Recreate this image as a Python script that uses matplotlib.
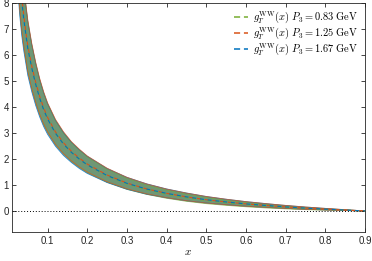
import numpy as np
import matplotlib
matplotlib.use("Agg")
import matplotlib.pyplot as plt
from matplotlib.lines import Line2D

# x grid
x = [0.025, 0.03, 0.035, 0.04, 0.045, 0.05, 0.06, 0.07, 0.08, 0.09, 0.10, 0.12, 0.14,
     0.16, 0.18, 0.20, 0.25, 0.30, 0.35, 0.40, 0.45, 0.50, 0.55, 0.60, 0.65, 0.70,
     0.75, 0.80, 0.85, 0.90]

# central values, P3 = 0.83 / 1.25 / 1.67 GeV
g_083 = [10.2, 9.0, 8.1, 7.4, 6.85, 6.3, 5.53, 4.9, 4.36, 3.92, 3.56, 3.0, 2.59,
         2.26, 2.0, 1.77, 1.35, 1.04, 0.815, 0.645, 0.51, 0.4, 0.315, 0.245, 0.185, 0.135,
         0.092, 0.058, 0.03, 0.0]
g_125 = [10.3, 9.1, 8.2, 7.5, 6.9, 6.35, 5.57, 4.94, 4.4, 3.96, 3.59, 3.03, 2.62,
         2.29, 2.03, 1.80, 1.38, 1.07, 0.845, 0.675, 0.54, 0.43, 0.345, 0.27, 0.21, 0.155,
         0.107, 0.068, 0.033, 0.0]
g_167 = [10.1, 8.95, 8.05, 7.35, 6.8, 6.25, 5.49, 4.86, 4.33, 3.89, 3.53, 2.98, 2.57,
         2.25, 1.99, 1.77, 1.36, 1.06, 0.84, 0.675, 0.54, 0.43, 0.345, 0.27, 0.21, 0.155,
         0.107, 0.068, 0.033, 0.0]

# band half widths
err_083 = [1.5, 1.35, 1.22, 1.1, 1.02, 0.95, 0.83, 0.74, 0.66, 0.6, 0.54, 0.46, 0.4,
           0.36, 0.33, 0.3, 0.25, 0.21, 0.18, 0.16, 0.14, 0.12, 0.1, 0.085, 0.07, 0.055,
           0.042, 0.028, 0.014, 0.0]
err_125 = [1.55, 1.4, 1.27, 1.15, 1.06, 0.99, 0.87, 0.77, 0.69, 0.62, 0.56, 0.48, 0.42,
           0.37, 0.34, 0.31, 0.26, 0.22, 0.19, 0.165, 0.145, 0.125, 0.105, 0.088, 0.072, 0.057,
           0.044, 0.03, 0.015, 0.0]
err_167 = [1.65, 1.48, 1.34, 1.21, 1.12, 1.04, 0.91, 0.81, 0.72, 0.65, 0.59, 0.5, 0.44,
           0.39, 0.36, 0.33, 0.27, 0.23, 0.2, 0.17, 0.15, 0.125, 0.105, 0.088, 0.072, 0.057,
           0.044, 0.03, 0.015, 0.0]

labels = ["0.83", "1.25", "1.67"]
colors = ["#77AC30", "#D95319", "#0072BD"]

plt.rcParams['mathtext.fontset'] = 'cm'
plt.rcParams['font.family'] = ['Liberation Sans', 'DejaVu Sans']

fig = plt.figure(figsize=(3.72, 2.61), dpi=100)
ax = fig.add_axes([0.032, 0.112, 0.949, 0.878])

xa = np.array(x)
series = [(g_083, err_083), (g_125, err_125), (g_167, err_167)]
# bands: orange underneath, then blue, green on top
for i, a in [(1, 0.5), (2, 0.55), (0, 0.4)]:
    g = np.array(series[i][0])
    e = np.array(series[i][1])
    ax.fill_between(xa, g - e, g + e, facecolor=colors[i], edgecolor='none', alpha=a, lw=0)

# band edges on top of the fills
for i in [0, 2, 1]:
    g = np.array(series[i][0])
    e = np.array(series[i][1])
    ax.plot(xa, g - e, color=colors[i], lw=0.6, alpha=0.75)
    ax.plot(xa, g + e, color=colors[i], lw=0.6, alpha=0.75)

offsets = [0, 3.5, 0]
handles = []
for (g, e), c, lab, off in zip(series, colors, labels, offsets):
    ax.plot(xa, g, color=c, lw=0.8, ls=(off, (3.5, 3.5)))
    handles.append(Line2D([], [], color=c, lw=1.1, ls=(0, (4, 2.5)),
                          label=r'$g_T^{\rm WW}(x)\ P_3 = %s\ {\rm GeV}$' % lab))

ax.axhline(0, color='k', ls=(0, (1, 2)), lw=0.7)

ax.set_xlim(0.01, 0.9)
ax.set_ylim(-0.8, 8)
ax.set_xticks([0.1, 0.2, 0.3, 0.4, 0.5, 0.6, 0.7, 0.8, 0.9])
ax.set_xticklabels(['0.1', '0.2', '0.3', '0.4', '0.5', '0.6', '0.7', '0.8', '0.9'])
ax.set_yticks(range(0, 9))
ax.tick_params(direction='in', length=3, width=0.6, labelsize=7, colors='#262626',
               top=True, right=True, pad=3)
ax.tick_params(axis='y', pad=2)
for s in ax.spines.values():
    s.set_color('#262626')
    s.set_linewidth(0.6)

ax.set_xlabel(r'$x$', fontsize=8, labelpad=1)

leg = ax.legend(handles=handles, loc='upper right', frameon=False, fontsize=7.5,
                handlelength=1.4, handletextpad=0.4, labelspacing=0.0, borderaxespad=0.3)

fig.savefig('out.png', dpi=100)
